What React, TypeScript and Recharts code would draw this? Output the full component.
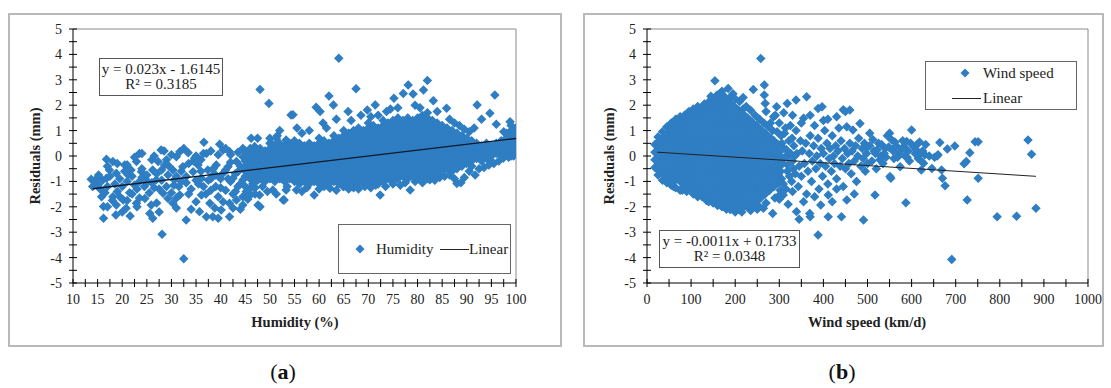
import React from 'react'
import { ScatterChart, Scatter, XAxis, YAxis, ReferenceLine, Legend } from 'recharts'

const BLUE = '#2F7EC3'
const SERIF = "'Liberation Serif', 'Times New Roman', serif"

// axis ticks
const residualTicks = [-5, -4.5, -4, -3.5, -3, -2.5, -2, -1.5, -1, -0.5, 0, 0.5, 1, 1.5, 2, 2.5, 3, 3.5, 4, 4.5, 5]
const residualLabels = [-5, -4, -3, -2, -1, 0, 1, 2, 3, 4, 5]
const humidityTicks = [10, 12.5, 15, 17.5, 20, 22.5, 25, 27.5, 30, 32.5, 35, 37.5, 40, 42.5, 45, 47.5, 50, 52.5, 55, 57.5, 60, 62.5, 65, 67.5, 70, 72.5, 75, 77.5, 80, 82.5, 85, 87.5, 90, 92.5, 95, 97.5, 100]
const humidityLabels = [10, 15, 20, 25, 30, 35, 40, 45, 50, 55, 60, 65, 70, 75, 80, 85, 90, 95, 100]
const windTicks = [0, 50, 100, 150, 200, 250, 300, 350, 400, 450, 500, 550, 600, 650, 700, 750, 800, 850, 900, 950, 1000]
const windLabels = [0, 100, 200, 300, 400, 500, 600, 700, 800, 900, 1000]

// (a) humidity vs residual — sparse left cloud
const humidityLeft: [number, number][] = [
  [16.8, -0.13], [18.1, -0.22], [23.5, 0.1], [22.9, -0.22], [27.9, 0.24], [27.3, -0.22], [31.7, 0.17], [31, -0.03],
  [33.4, 0.13], [34.7, -0.09], [36.6, 0.54], [37.1, 0.1], [39.8, 0.46], [40.5, 0.24], [41.8, 0.17], [43.2, -0.22],
  [44.5, -0.03], [46.2, 0.7], [46.9, 0.37], [47.2, 0.04], [50.3, 0.5], [51.3, 0.7], [53.3, 0.63], [54.3, 1.61],
  [13.7, -0.92], [15.1, -1.14], [16.8, -0.88], [17.4, -0.55], [18.8, -0.68], [20.5, -0.35], [21.2, -0.75], [21.8, -0.55],
  [22.5, -1.14], [23.9, -0.62], [24.9, -0.94], [26.2, -0.55], [26.9, -0.94], [28.6, -0.35], [29.3, -0.75], [30.3, -0.55],
  [30.6, -0.94], [32.3, -0.42], [33, -0.81], [34.4, -0.62], [35.4, -0.35], [36.1, -0.88], [37.4, -0.55], [38.4, -0.75],
  [39.1, -0.35], [40.5, -0.68], [41.5, -0.42], [42.5, -0.88], [43.5, -0.62], [44.5, -0.94],
  [15.8, -1.6], [16.2, -1.99], [16.2, -2.45], [18.1, -1.6], [18.8, -1.93], [18.7, -2.32], [20.2, -1.73], [20.8, -2.06],
  [21.6, -2.36], [22.9, -1.86], [24.6, -1.67], [25.9, -1.93], [26.2, -2.45], [25.6, -2.26], [28.1, -3.08], [28.3, -1.47],
  [29.3, -1.67], [30.3, -1.86], [31.7, -1.54], [33, -2.52], [35, -1.8], [35.7, -2.19], [36.1, -1.54], [37.1, -2.39],
  [37.8, -1.86], [38.4, -2.39], [39.5, -2.45], [40.1, -2.13], [41.8, -2.39], [41.8, -1.86], [43.2, -1.73], [44.5, -1.93],
  [45.2, -1.4], [47.6, -1.93], [47.9, -1.54], [50.6, -1.34], [52.7, -1.73], [53.3, -1.34], [32.5, -4.05],
  [14.5, -1.05], [15.5, -1.3], [16, -0.95], [17, -1.2], [17.5, -0.8], [18.5, -1.1], [19, -1.4], [19.5, -0.9],
  [20, -1.2], [21, -1.0], [21.5, -1.45], [22, -0.8], [23, -1.3], [23.5, -1.0], [24, -0.5], [24.5, -1.2],
  [25, -0.75], [25.5, -1.45], [26, -1.05], [27, -0.7], [27.5, -1.3], [28, -0.95], [29, -1.2], [29.5, -0.4],
  [30, -1.45], [31, -0.8], [31.5, -1.2], [32, -0.6], [33, -1.05], [33.5, -0.3], [34, -1.3], [35, -0.95],
  [36, -0.6], [36.5, -1.2], [37, -1.5], [38, -0.9], [38.5, -0.5], [39, -1.2], [39.5, -1.6], [40, -0.9],
  [41, -0.55], [41, -1.35], [42, -1.0], [42.5, -1.5], [43, -0.7], [43.5, -1.2], [44, -0.4], [44.5, -1.6],
  [45, -1.2], [45.5, -1.7], [46.5, -1.1], [47.5, -0.95], [19, -0.3], [21, -0.35], [22.5, -0.05], [24, 0.1],
  [26, -0.15], [28.5, 0.2], [30, 0.05], [35, 0.0], [36.5, 0.1], [38, 0.2], [41, 0.3], [42, 0.05], [43.5, 0.15],
  [14, -1.2], [15, -0.85], [16.5, -1.45], [17, -0.4], [18, -1.75], [19.5, -1.6], [20.5, -0.6], [21, -1.75],
  [22, -1.5], [23.5, -1.65], [24, -0.85], [25, -1.05], [26.5, -1.25], [27, -1.85], [28, -0.55], [29, -0.15],
  [30.5, -1.15], [31, -1.65], [32, -1.0], [33.5, -1.5], [34.5, -0.2], [35.5, -1.1], [36, -0.15], [37.5, -0.95],
  [38, -1.35], [39, -0.75], [40, -1.25], [40.5, -1.8], [41.5, -0.9], [42, -0.25], [43, -1.4], [44, -1.1],
  [44, -2.1], [45, -0.55], [46, -1.55], [47, -1.25], [20, -2.2], [23, -2.0], [27.5, -2.2], [31, -2.05],
  [34, -2.1], [38.8, -2.05], [42.5, -2.05], [17, -2.0], [15.2, -0.75], [26.5, 0.0], [32.5, 0.3], [39.5, 0.05],
  [44.5, 0.3],
]

// (a) dense core, one column of residuals per humidity value
const humidityCore: [number, number[]][] = [
  [45, [-0.8, -0.6, -0.4, -0.2, 0, 0.2]],
  [46, [-0.9, -0.7, -0.5, -0.3, -0.1, 0.1, 0.3]],
  [47, [-1.0, -0.8, -0.6, -0.4, -0.2, 0, 0.2]],
  [48, [-0.9, -0.7, -0.5, -0.3, -0.1, 0.1, 0.3]],
  [49, [-1.0, -0.8, -0.6, -0.4, -0.2, 0, 0.2]],
  [50, [-0.9, -0.7, -0.5, -0.3, -0.1, 0.1, 0.3, 0.5]],
  [51, [-1.0, -0.8, -0.6, -0.4, -0.2, 0, 0.2, 0.4]],
  [52, [-0.9, -0.7, -0.5, -0.3, -0.1, 0.1, 0.3, 0.5]],
  [53, [-1.0, -0.8, -0.6, -0.4, -0.2, 0, 0.2, 0.4]],
  [54, [-0.9, -0.7, -0.5, -0.3, -0.1, 0.1, 0.3, 0.5]],
  [55, [-1.0, -0.8, -0.6, -0.4, -0.2, 0, 0.2, 0.4, 0.6]],
  [56, [-1.1, -0.9, -0.7, -0.5, -0.3, -0.1, 0.1, 0.3, 0.5]],
  [57, [-1.0, -0.8, -0.6, -0.4, -0.2, 0, 0.2, 0.4]],
  [58, [-1.1, -0.9, -0.7, -0.5, -0.3, -0.1, 0.1, 0.3, 0.5]],
  [59, [-1.0, -0.8, -0.6, -0.4, -0.2, 0, 0.2, 0.4]],
  [60, [-1.1, -0.9, -0.7, -0.5, -0.3, -0.1, 0.1, 0.3, 0.5, 0.7]],
  [61, [-1.0, -0.8, -0.6, -0.4, -0.2, 0, 0.2, 0.4, 0.6]],
  [62, [-1.1, -0.9, -0.7, -0.5, -0.3, -0.1, 0.1, 0.3, 0.5]],
  [63, [-1.0, -0.8, -0.6, -0.4, -0.2, 0, 0.2, 0.4, 0.6, 0.8]],
  [64, [-1.1, -0.9, -0.7, -0.5, -0.3, -0.1, 0.1, 0.3, 0.5, 0.7]],
  [65, [-1.2, -1.0, -0.8, -0.6, -0.4, -0.2, 0, 0.2, 0.4, 0.6, 0.8, 1.0]],
  [66, [-1.1, -0.9, -0.7, -0.5, -0.3, -0.1, 0.1, 0.3, 0.5, 0.7, 0.9]],
  [67, [-1.0, -0.8, -0.6, -0.4, -0.2, 0, 0.2, 0.4, 0.6, 0.8, 1.0]],
  [68, [-1.1, -0.9, -0.7, -0.5, -0.3, -0.1, 0.1, 0.3, 0.5, 0.7, 0.9, 1.1]],
  [69, [-1.0, -0.8, -0.6, -0.4, -0.2, 0, 0.2, 0.4, 0.6, 0.8, 1.0]],
  [70, [-1.1, -0.9, -0.7, -0.5, -0.3, -0.1, 0.1, 0.3, 0.5, 0.7, 0.9, 1.1, 1.3]],
  [71, [-1.0, -0.8, -0.6, -0.4, -0.2, 0, 0.2, 0.4, 0.6, 0.8, 1.0, 1.2]],
  [72, [-1.1, -0.9, -0.7, -0.5, -0.3, -0.1, 0.1, 0.3, 0.5, 0.7, 0.9, 1.1]],
  [73, [-1.0, -0.8, -0.6, -0.4, -0.2, 0, 0.2, 0.4, 0.6, 0.8, 1.0, 1.2, 1.4]],
  [74, [-0.9, -0.7, -0.5, -0.3, -0.1, 0.1, 0.3, 0.5, 0.7, 0.9, 1.1, 1.3]],
  [75, [-1.0, -0.8, -0.6, -0.4, -0.2, 0, 0.2, 0.4, 0.6, 0.8, 1.0, 1.2, 1.4]],
  [76, [-0.9, -0.7, -0.5, -0.3, -0.1, 0.1, 0.3, 0.5, 0.7, 0.9, 1.1, 1.3, 1.5]],
  [77, [-0.8, -0.6, -0.4, -0.2, 0, 0.2, 0.4, 0.6, 0.8, 1.0, 1.2, 1.4]],
  [78, [-0.9, -0.7, -0.5, -0.3, -0.1, 0.1, 0.3, 0.5, 0.7, 0.9, 1.1, 1.3, 1.5]],
  [79, [-0.8, -0.6, -0.4, -0.2, 0, 0.2, 0.4, 0.6, 0.8, 1.0, 1.2, 1.4]],
  [80, [-0.9, -0.7, -0.5, -0.3, -0.1, 0.1, 0.3, 0.5, 0.7, 0.9, 1.1, 1.3, 1.5]],
  [81, [-0.8, -0.6, -0.4, -0.2, 0, 0.2, 0.4, 0.6, 0.8, 1.0, 1.2, 1.4, 1.6]],
  [82, [-0.9, -0.7, -0.5, -0.3, -0.1, 0.1, 0.3, 0.5, 0.7, 0.9, 1.1, 1.3, 1.5, 1.7]],
  [83, [-0.8, -0.6, -0.4, -0.2, 0, 0.2, 0.4, 0.6, 0.8, 1.0, 1.2, 1.4]],
  [84, [-0.7, -0.5, -0.3, -0.1, 0.1, 0.3, 0.5, 0.7, 0.9, 1.1, 1.3]],
  [85, [-0.6, -0.4, -0.2, 0, 0.2, 0.4, 0.6, 0.8, 1.0, 1.2]],
  [86, [-0.5, -0.3, -0.1, 0.1, 0.3, 0.5, 0.7, 0.9, 1.1]],
  [87, [-0.6, -0.4, -0.2, 0, 0.2, 0.4, 0.6, 0.8, 1.0]],
  [88, [-0.5, -0.3, -0.1, 0.1, 0.3, 0.5, 0.7, 0.9]],
  [89, [-0.4, -0.2, 0, 0.2, 0.4, 0.6, 0.8]],
  [90, [-0.3, -0.1, 0.1, 0.3, 0.5, 0.7]],
  [91, [-0.4, -0.2, 0, 0.2, 0.4, 0.6]],
  [92, [-0.1, 0.1, 0.3, 0.5]],
  [93, [-0.2, 0, 0.2, 0.4]],
  [94, [-0.1, 0.1, 0.3, 0.5]],
  [95, [-0.2, 0, 0.2, 0.4]],
  [96, [0.1, 0.3, 0.5]],
  [97, [0, 0.2, 0.4, 0.6]],
  [98, [0.1, 0.3, 0.5, 0.7, 0.9]],
  [99, [0, 0.2, 0.4, 0.6, 0.8, 1.0, 1.2]],
  [100, [0.1, 0.3, 0.5, 0.7, 0.9, 1.1]],
]

// (a) points above and below the core
const humidityFringe: [number, number][] = [
  [54.7, 1.62], [55.5, 1.1], [56.5, 0.9], [58, 1.0], [59.4, 1.92], [60.2, 1.75], [60.8, 1.3], [62, 2.36],
  [62.9, 2.01], [61.5, 1.1], [64, 3.85], [63.5, 1.45], [65.9, 1.75], [66.5, 1.4], [67.5, 2.65], [68.5, 1.6],
  [69.8, 1.81], [70.5, 1.55], [71.4, 2.01], [72, 1.6], [73.7, 1.75], [74.5, 1.85], [75.2, 2.27], [76, 1.9],
  [77.1, 2.46], [78.1, 2.8], [79.1, 2.44], [79.5, 2.0], [80.5, 1.9], [81.2, 2.6], [82, 2.97], [83.2, 2.18],
  [84, 1.75], [85.9, 1.88], [86.5, 1.45], [87.5, 1.3], [88.5, 1.2], [89.5, 1.05], [90.5, 0.95], [91.5, 1.1],
  [92.1, 2.01], [93, 1.45], [94.7, 1.68], [95.7, 2.4], [96, 1.25], [97.5, 0.95], [98.8, 1.35], [50, 0.7],
  [51.5, 0.8], [52, 1.0], [47.5, 0.7], [48, 2.62], [49.8, 2.07],
  [46, -1.3], [47, -1.5], [48, -2.0], [48.5, -1.2], [49.5, -1.4], [51.3, -1.5], [52.9, -1.73], [53.5, -1.2],
  [55.4, -1.34], [56.5, -1.4], [57.5, -1.25], [59, -1.54], [60, -1.3], [61, -1.2], [62.2, -1.27], [63.5, -1.35],
  [64.9, -1.2], [66, -1.3], [67, -1.25], [68, -1.3], [69.3, -1.2], [70.5, -1.25], [71.5, -1.15], [72.4, -1.54],
  [73.5, -1.2], [75, -1.1], [76.5, -1.15], [77.5, -1.05], [78.5, -1.34], [79.5, -1.0], [81, -1.05], [82.5, -0.94],
  [83.5, -0.95], [84.5, -0.85], [85.5, -0.8], [86.5, -0.75], [87.5, -0.9], [88, -1.08], [88.8, -1.05], [89.5, -0.85],
  [90.5, -0.6], [91.7, -0.75], [92.5, -0.5], [93.5, -0.45], [94.5, -0.35], [95.5, -0.3], [96.5, -0.2], [97.4, -0.09],
  [98.5, -0.05], [99.5, 0.0],
]

// (b) wind speed vs residual — dense blob, one column per wind speed
const windCore: [number, number[]][] = [
  [18, [-0.45, -0.15, 0.15, 0.45]],
  [28, [-0.6, -0.3, 0, 0.3, 0.6]],
  [38, [-0.75, -0.45, -0.15, 0.15, 0.45, 0.75]],
  [48, [-0.9, -0.6, -0.3, 0, 0.3, 0.6, 0.9]],
  [58, [-1.05, -0.75, -0.45, -0.15, 0.15, 0.45, 0.75, 1.05]],
  [68, [-0.9, -0.6, -0.3, 0, 0.3, 0.6, 0.9, 1.2]],
  [78, [-1.05, -0.75, -0.45, -0.15, 0.15, 0.45, 0.75, 1.05, 1.35]],
  [88, [-1.2, -0.9, -0.6, -0.3, 0, 0.3, 0.6, 0.9, 1.2, 1.5]],
  [98, [-1.25, -1.05, -0.75, -0.45, -0.15, 0.15, 0.45, 0.75, 1.05, 1.35, 1.6]],
  [108, [-1.35, -1.2, -0.9, -0.6, -0.3, 0, 0.3, 0.6, 0.9, 1.2, 1.5, 1.7]],
  [118, [-1.35, -1.05, -0.75, -0.45, -0.15, 0.15, 0.45, 0.75, 1.05, 1.35, 1.65, 1.8]],
  [128, [-1.5, -1.2, -0.9, -0.6, -0.3, 0, 0.3, 0.6, 0.9, 1.2, 1.5, 1.8, 1.95]],
  [138, [-1.65, -1.35, -1.05, -0.75, -0.45, -0.15, 0.15, 0.45, 0.75, 1.05, 1.35, 1.65, 1.95, 2.1]],
  [148, [-1.8, -1.5, -1.2, -0.9, -0.6, -0.3, 0, 0.3, 0.6, 0.9, 1.2, 1.5, 1.8, 2.1, 2.25]],
  [158, [-1.8, -1.65, -1.35, -1.05, -0.75, -0.45, -0.15, 0.15, 0.45, 0.75, 1.05, 1.35, 1.65, 1.95, 2.25]],
  [168, [-1.95, -1.8, -1.5, -1.2, -0.9, -0.6, -0.3, 0, 0.3, 0.6, 0.9, 1.2, 1.5, 1.8, 2.1, 2.35]],
  [178, [-1.95, -1.65, -1.35, -1.05, -0.75, -0.45, -0.15, 0.15, 0.45, 0.75, 1.05, 1.35, 1.65, 1.95, 2.25]],
  [188, [-2.1, -1.8, -1.5, -1.2, -0.9, -0.6, -0.3, 0, 0.3, 0.6, 0.9, 1.2, 1.5, 1.8, 2.1, 2.3]],
  [198, [-1.95, -1.65, -1.35, -1.05, -0.75, -0.45, -0.15, 0.15, 0.45, 0.75, 1.05, 1.35, 1.65, 1.95]],
  [208, [-2.1, -1.8, -1.5, -1.2, -0.9, -0.6, -0.3, 0, 0.3, 0.6, 0.9, 1.2, 1.5, 1.8]],
  [218, [-1.95, -1.65, -1.35, -1.05, -0.75, -0.45, -0.15, 0.15, 0.45, 0.75, 1.05, 1.35, 1.65, 1.85]],
  [228, [-2.0, -1.8, -1.5, -1.2, -0.9, -0.6, -0.3, 0, 0.3, 0.6, 0.9, 1.2, 1.5]],
  [238, [-1.95, -1.65, -1.35, -1.05, -0.75, -0.45, -0.15, 0.15, 0.45, 0.75, 1.05, 1.35]],
  [248, [-1.8, -1.5, -1.2, -0.9, -0.6, -0.3, 0, 0.3, 0.6, 0.9, 1.2]],
  [258, [-1.65, -1.35, -1.05, -0.75, -0.45, -0.15, 0.15, 0.45, 0.75, 1.05]],
  [268, [-1.5, -1.2, -0.9, -0.6, -0.3, 0, 0.3, 0.6, 0.9]],
  [278, [-1.35, -1.05, -0.75, -0.45, -0.15, 0.15, 0.45, 0.75]],
  [288, [-1.2, -0.9, -0.6, -0.3, 0, 0.3, 0.6]],
  [298, [-1.05, -0.75, -0.45, -0.15, 0.15, 0.45]],
]

// (b) thinning cloud and scattered points
const windSpread: [number, number][] = [
  [305, -0.9], [308, -0.3], [310, 0.3], [312, 0.9], [315, -1.3], [318, -0.6], [320, 0], [322, 0.6],
  [325, 1.2], [328, -1.0], [330, -0.2], [333, 0.4], [336, -0.7], [338, 1.0], [340, 0.1], [343, -1.2],
  [345, -0.4], [348, 0.6], [350, -0.8], [352, 0.2], [355, 1.49], [357, -0.3], [360, 0.5], [362, -1.5],
  [365, -0.6], [368, 0.1], [370, 0.8], [373, -1.0], [375, -0.2], [378, 0.4], [380, 1.2], [383, -0.5],
  [385, 0.0], [388, 0.7], [390, -1.3], [393, -0.3], [395, 0.3], [398, -0.8], [400, 0.1], [403, 1.0],
  [405, -0.4], [408, 0.5], [410, -1.1], [413, -0.1], [415, 0.3], [418, -0.6], [420, 0.8], [423, 0.0],
  [425, -0.3], [428, 0.4], [430, -0.9], [433, 0.2], [435, 1.1], [438, -0.4], [440, 0.6], [443, -0.1],
  [445, -1.2], [448, 0.3], [450, -0.5], [453, 1.15], [455, 0.1], [458, -0.3], [460, 0.5], [463, -0.7],
  [465, 0.2], [467, 1.02], [470, -0.2], [473, 0.4], [475, -1.0], [478, 0.0], [480, 0.7], [483, 1.28],
  [485, -0.4], [488, 0.3], [490, -0.1], [493, 0.5], [495, -0.6], [498, 0.1], [500, 0.35],
  [303, -0.6], [303, 0.0], [306, 0.5], [309, -1.1], [313, -0.05], [316, 0.25], [319, -0.35], [323, -0.8],
  [326, 0.1], [329, 0.7], [332, -0.5], [335, 0.0], [302, -1.35], [304, 0.8], [314, 1.1],
  [154, 2.96], [258, 3.84], [266, 2.8], [241, 2.62], [184, 2.66], [159, 2.4], [218, 2.3], [266, 2.4],
  [294, 1.94], [318, 2.07], [338, 2.2], [362, 2.33], [388, 1.87], [445, 1.82], [460, 1.81], [397, 1.94],
  [450, 1.75], [268, 2.07], [291, 1.6], [287, 1.55], [210, 2.15], [195, 2.45], [170, 2.55], [140, 2.1],
  [120, 1.85], [100, 1.7], [80, 1.5], [60, 1.3], [300, 1.3], [310, 1.7], [330, 1.6], [350, 1.3],
  [370, 1.6], [410, 1.45], [430, 1.55], [400, 1.4], [280, 1.3], [270, 1.75],
  [101, -1.18], [60, -1.2], [80, -1.35], [125, -1.6], [140, -1.8], [160, -1.95], [180, -2.1], [200, -2.2],
  [222, -1.97], [264, -2.06], [285, -2.26], [309, -1.54], [339, -2.19], [345, -2.49], [369, -2.26], [370, -2.39],
  [388, -3.11], [394, -1.93], [411, -2.39], [411, -1.54], [441, -2.39], [453, -1.73], [491, -2.52], [517, -1.54],
  [587, -1.84], [300, -1.7], [320, -1.9], [330, -1.4], [355, -1.8], [380, -1.6], [420, -1.8], [430, -1.3],
  [470, -1.5], [250, -2.1], [240, -1.95],
  [505, 0.9], [510, -0.2], [515, 0.2], [520, -0.5], [525, 0.5], [530, 0.0], [535, -0.3], [540, 0.3],
  [545, 0.8], [550, 0.9], [551, -0.81], [553, -0.88], [555, 0.63], [558, 0.2], [560, -0.1], [565, 0.4],
  [570, 0.1], [574, -0.42], [578, 0.3], [580, 0.6], [585, 0.0], [589, 0.57], [592, 0.2], [595, -0.2],
  [600, 1.02], [605, 0.35], [608, 0.1], [612, 0.44], [615, -0.1], [620, 0.1], [622, -0.55], [623, -0.22],
  [627, -0.29], [630, 0.05], [646, -0.49], [658, 0.0], [664, 0.53], [668, -0.55], [670, -0.88], [676, -1.17],
  [681, 0.28], [691, -4.07], [698, 0.39], [719, -0.31], [724, -0.22], [726, -1.73], [732, 0.13], [744, 0.56],
  [751, 0.56], [751, -0.88], [794, -2.39], [838, -2.37], [864, 0.63], [872, 0.07], [882, -2.06],
  [500, -0.3], [505, 0.4], [512, 0.65], [518, 0.1], [522, 0.25], [528, -0.15], [532, 0.45], [538, 0.1],
  [542, -0.05], [548, 0.35], [562, 0.55], [568, -0.05], [575, 0.2], [583, 0.35], [590, -0.05], [598, 0.5],
  [610, 0.25], [618, 0.55], [625, 0.2], [632, 0.45], [640, 0.0], [652, -0.05], [660, 0.05],
  // ragged blob edges
  [25, 0.75], [35, 0.95], [45, 1.15], [55, 1.3], [65, 1.45], [75, 1.55], [85, 1.6], [95, 1.75],
  [105, 1.85], [115, 1.95], [130, 2.05], [145, 2.35], [165, 2.45], [175, 2.35], [200, 2.25], [225, 1.95],
  [235, 1.8], [245, 1.6], [255, 1.45], [265, 1.3], [275, 1.15], [285, 1.0], [295, 0.95],
  [25, -0.75], [35, -0.95], [45, -1.05], [55, -1.15], [65, -1.25], [75, -1.35], [90, -1.4], [105, -1.5],
  [115, -1.6], [135, -1.75], [150, -1.85], [170, -2.0], [190, -2.1], [215, -2.2], [235, -2.15], [255, -2.0],
  [270, -1.85], [290, -1.65], [300, -1.55],
]

// fitted lines, endpoints
const trendHumidity = [{ x: 14, y: -1.29 }, { x: 100, y: 0.69 }]
const trendWind = [{ x: 23, y: 0.15 }, { x: 882, y: -0.8 }]

const toPoints = (core: [number, number[]][], extra: [number, number][]) => [
  ...extra.map(([x, y]) => ({ x, y })),
  ...core.flatMap(([x, ys]) => ys.map(y => ({ x, y }))),
]
const humidityData = toPoints(humidityCore, [...humidityLeft, ...humidityFringe])
const windData = toPoints(windCore, windSpread)

const Diamond = (props: any) => {
  const { cx, cy } = props
  if (cx == null || cy == null) return <g />
  const r = 3.9
  return (
    <path
      d={`M${cx},${cy - r}L${cx + r},${cy}L${cx},${cy + r}L${cx - r},${cy}Z`}
      fill={BLUE} stroke={BLUE} strokeWidth={1.2} strokeLinejoin="miter"
    />
  )
}

const NoDot = () => <g />

function XTick({ x, y, payload, labels }: any) {
  const v = payload.value
  return (
    <g>
      <line x1={x} x2={x} y1={y - 4} y2={y + 4} stroke="#000" />
      {labels.includes(v) && (
        <text x={x} y={y + 21} textAnchor="middle" fontSize={14} fill="#222" fontFamily={SERIF}>{v}</text>
      )}
    </g>
  )
}

function YTick({ x, y, payload }: any) {
  const v = payload.value
  return (
    <g>
      <line x1={x - 4} x2={x + 4} y1={y} y2={y} stroke="#000" />
      {residualLabels.includes(v) && (
        <text x={x - 11} y={y + 5} textAnchor="end" fontSize={14} fill="#222" fontFamily={SERIF}>{v}</text>
      )}
    </g>
  )
}

const LegendDiamond = () => (
  <svg width={10} height={10} style={{ display: 'block' }}>
    <path d="M5,0.5L9.5,5L5,9.5L0.5,5Z" fill={BLUE} />
  </svg>
)

const legendBox: React.CSSProperties = {
  position: 'relative', width: '100%', height: '100%', boxSizing: 'border-box',
  border: '1px solid #666', background: '#fff', fontFamily: SERIF, fontSize: 15, color: '#222',
}

const HumidityLegend = () => (
  <div style={legendBox}>
    <div style={{ position: 'absolute', left: 16, top: 19 }}><LegendDiamond /></div>
    <div style={{ position: 'absolute', left: 37, top: 14, lineHeight: '20px' }}>Humidity</div>
    <div style={{ position: 'absolute', left: 101, top: 24, width: 29, borderTop: '1px solid #222' }} />
    <div style={{ position: 'absolute', left: 130, top: 14, lineHeight: '20px' }}>Linear</div>
  </div>
)

const WindLegend = () => (
  <div style={legendBox}>
    <div style={{ position: 'absolute', left: 34, top: 6 }}><LegendDiamond /></div>
    <div style={{ position: 'absolute', left: 57, top: 1, lineHeight: '20px' }}>Wind speed</div>
    <div style={{ position: 'absolute', left: 26, top: 36, width: 29, borderTop: '1px solid #222' }} />
    <div style={{ position: 'absolute', left: 57, top: 26, lineHeight: '20px' }}>Linear</div>
  </div>
)

const panel: React.CSSProperties = {
  position: 'absolute', top: 13, height: 334, border: '2px solid #b9b9b9', boxSizing: 'border-box',
}

const eqBox: React.CSSProperties = {
  position: 'absolute', border: '1px solid #555', boxSizing: 'border-box', background: '#fff',
  textAlign: 'center', fontSize: 15, lineHeight: '15px', paddingTop: 3, color: '#222', fontFamily: SERIF,
}

const title: React.CSSProperties = {
  position: 'absolute', fontWeight: 'bold', fontSize: 14.5, whiteSpace: 'nowrap', color: '#222',
  transform: 'translate(-50%, -50%)', fontFamily: SERIF,
}

const caption: React.CSSProperties = {
  position: 'absolute', top: 359, width: 100, textAlign: 'center', fontSize: 22, lineHeight: '26px',
  fontFamily: SERIF, color: '#111',
}

export default function App() {
  return (
    <div style={{ position: 'absolute', left: 0, top: 0, width: 1111, height: 388, background: '#fff', fontFamily: SERIF }}>
      <div style={{ ...panel, left: 8, width: 554 }}>
        <ScatterChart width={550} height={330} margin={{ top: 14, right: 44, bottom: 22, left: 23 }}>
          <XAxis
            type="number" dataKey="x" domain={[10, 100]} ticks={humidityTicks} interval={0}
            tickSize={0} tickMargin={0} height={40} axisLine={{ stroke: '#000' }}
            tick={(p: any) => <XTick {...p} labels={humidityLabels} />} allowDataOverflow
          />
          <YAxis
            type="number" dataKey="y" domain={[-5, 5]} ticks={residualTicks} interval={0}
            tickSize={0} tickMargin={0} width={40} axisLine={{ stroke: '#000' }}
            tick={(p: any) => <YTick {...p} />} allowDataOverflow
          />
          <ReferenceLine y={5} stroke="#8a8a8a" />
          <ReferenceLine x={100} stroke="#8a8a8a" />
          <Scatter name="Humidity" data={humidityData} fill={BLUE} shape={Diamond} isAnimationActive={false} />
          <Scatter name="Linear" data={trendHumidity} line={{ stroke: '#101828', strokeWidth: 1.3 }} shape={NoDot} legendType="none" isAnimationActive={false} />
          <Legend
            layout="horizontal" verticalAlign="middle" align="center"
            wrapperStyle={{ left: 328, top: 209, width: 173, height: 50 }}
            content={() => <HumidityLegend />}
          />
        </ScatterChart>
      </div>

      <div style={{ ...panel, left: 583, width: 521 }}>
        <ScatterChart width={517} height={330} margin={{ top: 14, right: 14, bottom: 22, left: 22 }}>
          <XAxis
            type="number" dataKey="x" domain={[0, 1000]} ticks={windTicks} interval={0}
            tickSize={0} tickMargin={0} height={40} axisLine={{ stroke: '#000' }}
            tick={(p: any) => <XTick {...p} labels={windLabels} />} allowDataOverflow
          />
          <YAxis
            type="number" dataKey="y" domain={[-5, 5]} ticks={residualTicks} interval={0}
            tickSize={0} tickMargin={0} width={40} axisLine={{ stroke: '#000' }}
            tick={(p: any) => <YTick {...p} />} allowDataOverflow
          />
          <ReferenceLine y={5} stroke="#8a8a8a" />
          <ReferenceLine x={1000} stroke="#8a8a8a" />
          <Scatter name="Wind speed" data={windData} fill={BLUE} shape={Diamond} isAnimationActive={false} />
          <Scatter name="Linear" data={trendWind} line={{ stroke: '#222', strokeWidth: 1 }} shape={NoDot} legendType="none" isAnimationActive={false} />
          <Legend
            layout="horizontal" verticalAlign="middle" align="center"
            wrapperStyle={{ left: 340, top: 46, width: 152, height: 49 }}
            content={() => <WindLegend />}
          />
        </ScatterChart>
      </div>

      <div style={{ ...eqBox, left: 99, top: 58, width: 124, height: 38 }}>
        y = 0.023x - 1.6145<br />R² = 0.3185
      </div>
      <div style={{ ...eqBox, left: 659, top: 230, width: 141, height: 38 }}>
        y = -0.0011x + 0.1733<br />R² = 0.0348
      </div>

      <div style={{ ...title, left: 35, top: 156, transform: 'translate(-50%, -50%) rotate(-90deg)' }}>Residuals (mm)</div>
      <div style={{ ...title, left: 295, top: 322 }}>Humidity (%)</div>
      <div style={{ ...title, left: 609, top: 156, transform: 'translate(-50%, -50%) rotate(-90deg)' }}>Residuals (mm)</div>
      <div style={{ ...title, left: 867, top: 322 }}>Wind speed (km/d)</div>

      <div style={{ ...caption, left: 233 }}>(<b>a</b>)</div>
      <div style={{ ...caption, left: 792 }}>(<b>b</b>)</div>
    </div>
  )
}
